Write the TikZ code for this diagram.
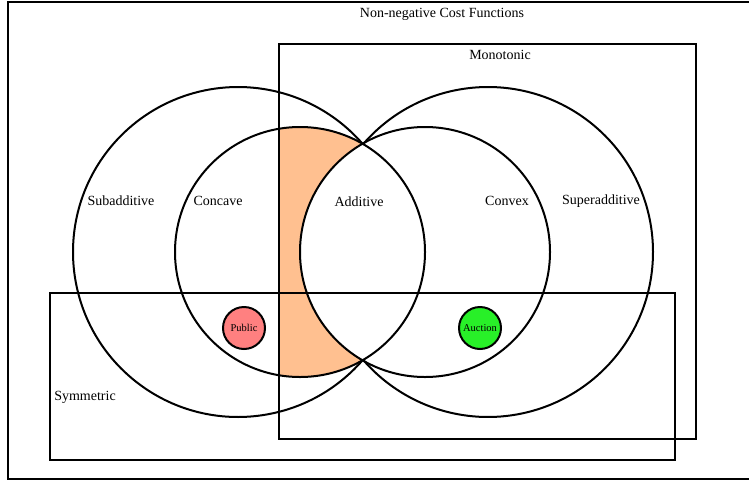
\documentclass[tikz,border=0pt]{standalone}
\usepackage{fontspec}
\setmainfont{Liberation Serif}
\definecolor{additivefill}{RGB}{255,192,144}
\definecolor{publicfill}{RGB}{255,128,128}
\definecolor{auctionfill}{RGB}{40,240,40}
\tikzset{
	setbox/.style={draw, line width=2pt},
	setring/.style={draw, line width=2pt},
	dot/.style={circle, draw, line width=2pt, minimum size=42pt, inner sep=0pt, font=\fontsize{10.5}{12}\selectfont},
}
\begin{document}
\begin{tikzpicture}[x=1pt,y=-1pt,font=\fontsize{14}{16}\selectfont]
	\useasboundingbox (0,0) rectangle (749,482);
	% shaded part of concave, monotonic, not additive
	\begin{scope}
		\clip (300,252) circle (125);
		\clip (279,0) rectangle (749,482);
		\fill[additivefill, even odd rule] (279,0) rectangle (749,482) (425,252) circle (125);
	\end{scope}
	\draw[setbox] (8,2) rectangle (770,479);
	\draw[setbox] (279,44) rectangle (696,439);
	\draw[setbox] (50,293) rectangle (675,460);
	% outer rings stop where they meet the lens
	\draw[setring] (238,252) ++(40.8:165) arc (40.8:319.2:165);
	\draw[setring] (488,252) ++(-139.2:165) arc (-139.2:139.2:165);
	\draw[setring] (300,252) circle (125);
	\draw[setring] (425,252) circle (125);
	\node (title) at (442,14) {Non-negative Cost Functions};
	\node (monotonic) at (500,55) {Monotonic};
	\node (subadditive) at (121,201) {Subadditive};
	\node (concave) at (218,201) {Concave};
	\node (additive) at (359,202) {Additive};
	\node (convex) at (507,201) {Convex};
	\node (superadditive) at (601,201) {Superadditive};
	\node (symmetric) at (85,397) {Symmetric};
	\node[dot, fill=publicfill] (public) at (244,328) {Public};
	\node[dot, fill=auctionfill] (auction) at (480,328) {Auction};
\end{tikzpicture}
\end{document}
